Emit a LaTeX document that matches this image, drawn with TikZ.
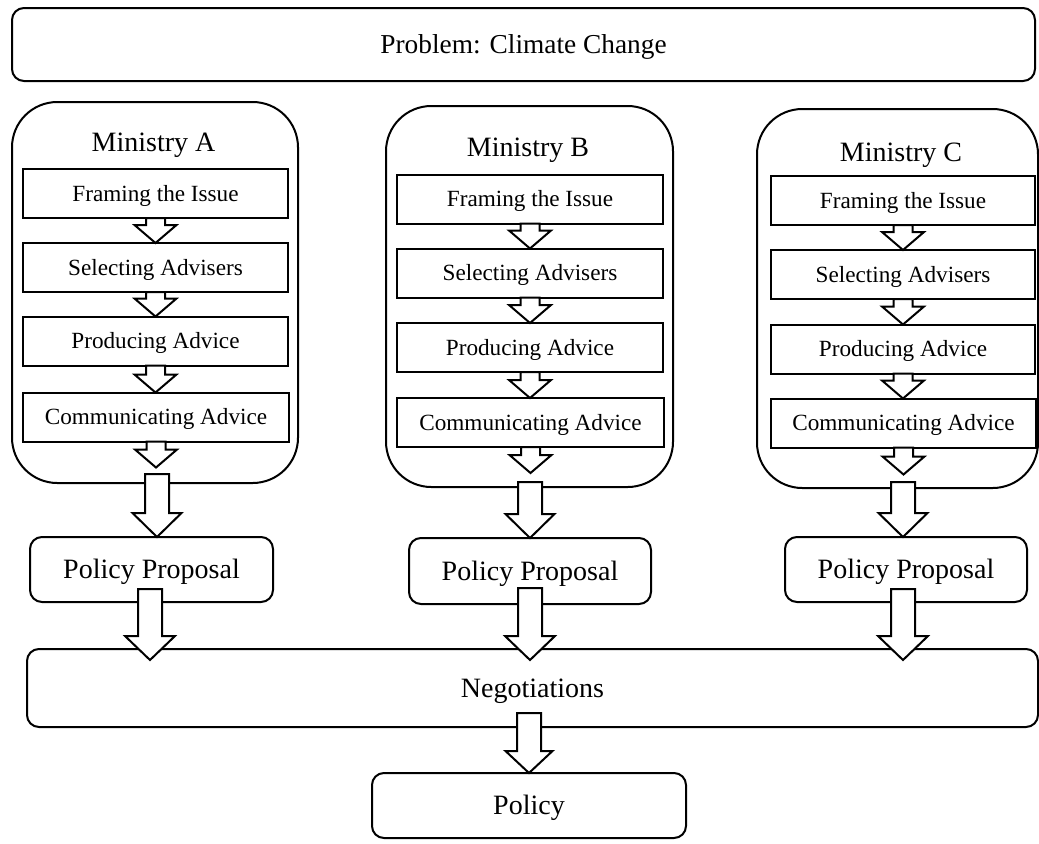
\documentclass[tikz,border=0pt]{standalone}
\usepackage{fontspec}
\setmainfont{Liberation Serif}
\usetikzlibrary{calc}
\tikzset{
  box/.style={draw, line width=1.5pt, inner sep=0pt, outer sep=0pt, align=center, text depth=0pt},
  stepbox/.style={box, minimum height={49*0.75pt}, text height=11.5pt, font=\fontsize{17.4}{20}\selectfont},
  minbox/.style={box, rounded corners=34pt},
  roundbox/.style={box, rounded corners=9pt, text height=13.9pt, font=\fontsize{21}{25}\selectfont},
  titletext/.style={inner sep=0pt, text height=13.9pt, text depth=0pt, font=\fontsize{21}{25}\selectfont},
  blk/.style={draw, fill=white, line width=1.5pt, line join=miter},
}
% #1 start, #2 tip, #3 shaft half width (px), #4 head half width (px), #5 head length (px)
\newcommand\blkarrow[5]{%
  \draw[blk] let \p1=#1, \p2=#2 in
    (\x1-#3*0.75pt,\y1) -- (\x1-#3*0.75pt,\y2+#5*0.75pt) -- (\x1-#4*0.75pt,\y2+#5*0.75pt)
    -- (\x1,\y2) -- (\x1+#4*0.75pt,\y2+#5*0.75pt) -- (\x1+#3*0.75pt,\y2+#5*0.75pt)
    -- (\x1+#3*0.75pt,\y1) -- cycle;}
\begin{document}
\begin{tikzpicture}[x=0.75pt,y=-0.75pt]
\useasboundingbox (0,0) rectangle (1039,843);
\fill[white] (0,0) rectangle (1039,843);

% Problem
\node[roundbox, minimum width={1023*0.75pt}, minimum height={73*0.75pt}, text height=13.5pt, font=\fontsize{20.5}{24}\selectfont] (prob) at (523.5,44.5) {Problem: Climate Change};

% Ministries
\node[minbox, minimum width={286*0.75pt}, minimum height={381*0.75pt}] (mA) at (155,292.5) {};
\node[minbox, minimum width={287*0.75pt}, minimum height={381*0.75pt}] (mB) at (529.5,296.5) {};
\node[minbox, minimum width={281*0.75pt}, minimum height={379*0.75pt}] (mC) at (897.5,298.5) {};
\node[titletext] (tA) at (153.5,142.5) {Ministry A};
\node[titletext] (tB) at (528,147.5) {Ministry B};
\node[titletext] (tC) at (901,152.5) {Ministry C};

% Steps A
\node[stepbox, minimum width={265*0.75pt}] (fA) at (155.5,193.5) {Framing the Issue};
\node[stepbox, minimum width={265*0.75pt}] (sA) at (155.5,267.5) {Selecting Advisers};
\node[stepbox, minimum width={265*0.75pt}] (pA) at (155.5,341) {Producing Advice};
\node[stepbox, minimum width={266*0.75pt}] (cA) at (156,417) {Communicating Advice};
% Steps B
\node[stepbox, minimum width={266*0.75pt}] (fB) at (530,199) {Framing the Issue};
\node[stepbox, minimum width={266*0.75pt}] (sB) at (530,273) {Selecting Advisers};
\node[stepbox, minimum width={266*0.75pt}] (pB) at (530,347.5) {Producing Advice};
\node[stepbox, minimum width={267*0.75pt}] (cB) at (530.5,422.5) {Communicating Advice};
% Steps C
\node[stepbox, minimum width={264*0.75pt}] (fC) at (903,200.5) {Framing the Issue};
\node[stepbox, minimum width={264*0.75pt}] (sC) at (903,274.5) {Selecting Advisers};
\node[stepbox, minimum width={264*0.75pt}] (pC) at (903,349) {Producing Advice};
\node[stepbox, minimum width={265*0.75pt}] (cC) at (903.5,423) {Communicating Advice};

% Policy proposals
\node[roundbox, minimum width={243*0.75pt}, minimum height={65*0.75pt}] (ppA) at (151.5,569.5) {Policy Proposal};
\node[roundbox, minimum width={242*0.75pt}, minimum height={66*0.75pt}] (ppB) at (530,571) {Policy Proposal};
\node[roundbox, minimum width={242*0.75pt}, minimum height={65*0.75pt}] (ppC) at (906,569.5) {Policy Proposal};

% Negotiations and Policy
\node[roundbox, minimum width={1011*0.75pt}, minimum height={78*0.75pt}] (neg) at (532.5,688) {Negotiations};
\node[roundbox, minimum width={314*0.75pt}, minimum height={65*0.75pt}] (pol) at (529,805.5) {Policy};

% free ends of the last step arrows
\coordinate (eA) at ($(cA.south)+(0,26)$);
\coordinate (eB) at ($(cB.south)+(0,26)$);
\coordinate (eC) at ($(cC.south)+(0,27)$);

% small step arrows
\blkarrow{(fA.south)}{(sA.north)}{9.5}{21}{18}
\blkarrow{(sA.south)}{(pA.north)}{9.5}{21}{18}
\blkarrow{(pA.south)}{(cA.north)}{9.5}{21}{18}
\blkarrow{(cA.south)}{(eA)}{9.5}{21}{18}
\blkarrow{(fB.south)}{(sB.north)}{9.5}{21}{18}
\blkarrow{(sB.south)}{(pB.north)}{9.5}{21}{18}
\blkarrow{(pB.south)}{(cB.north)}{9.5}{21}{18}
\blkarrow{(cB.south)}{(eB)}{9.5}{21}{18}
\blkarrow{(fC.south)}{(sC.north)}{9.5}{21}{18}
\blkarrow{(sC.south)}{(pC.north)}{9.5}{21}{18}
\blkarrow{(pC.south)}{(cC.north)}{9.5}{21}{18}
\blkarrow{(cC.south)}{(eC)}{9.5}{21}{18}

% ministry -> policy proposal
\blkarrow{($(mA.south)+(2,-9)$)}{($(ppA.north-|mA.south)+(2,0)$)}{12}{24.5}{24}
\blkarrow{($(mB.south)+(0.5,-5)$)}{($(ppB.north-|mB.south)+(0.5,0)$)}{12}{24.5}{24}
\blkarrow{($(mC.south)+(5.5,-6)$)}{($(ppC.north-|mC.south)+(5.5,0)$)}{12}{24.5}{24}

% policy proposal -> negotiations
\blkarrow{($(ppA.south)+(-1.5,-13)$)}{($(neg.north-|ppA.south)+(-1.5,11)$)}{12}{25}{24}
\blkarrow{($(ppB.south)+(0,-16)$)}{($(neg.north-|ppB.south)+(0,11)$)}{12}{25}{24}
\blkarrow{($(ppC.south)+(-3,-13)$)}{($(neg.north-|ppC.south)+(-3,11)$)}{12}{25}{24}

% negotiations -> policy
\blkarrow{($(neg.south-|pol.north)+(0,-14)$)}{(pol.north)}{12}{23.5}{22}
\end{tikzpicture}
\end{document}
